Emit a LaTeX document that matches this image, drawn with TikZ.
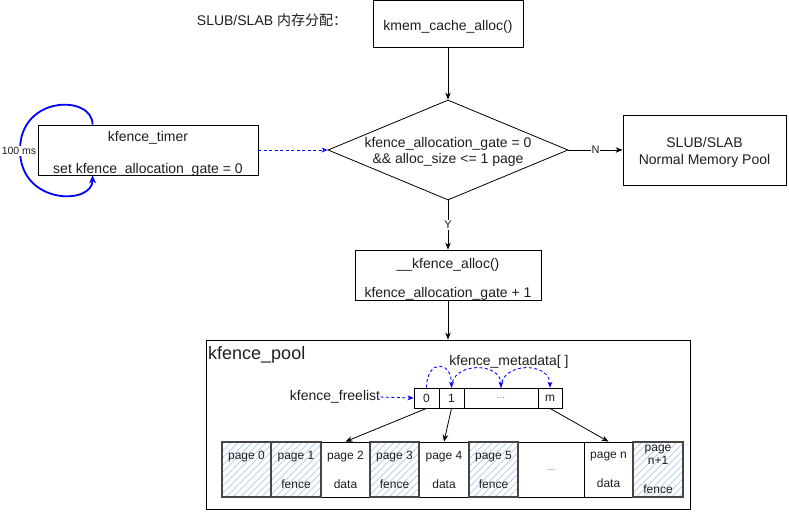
\documentclass[tikz,border=0pt]{standalone}
\usepackage{fontspec}
\setmainfont{Liberation Sans}
\newfontfamily\cjk{Noto Sans CJK SC}
\usetikzlibrary{shapes.geometric,arrows.meta,patterns.meta,calc}
\definecolor{hatchblue}{RGB}{170,203,240}
\definecolor{sketchgray}{RGB}{70,70,70}
\definecolor{txt}{RGB}{30,30,30}
\begin{document}
\begin{tikzpicture}[x=1pt,y=-1pt,
  every node/.style={text=txt},
  fnt/.style={font=\fontsize{14}{16.5}\selectfont},
  box/.style={draw,line width=0.8pt,inner sep=0pt,align=center,fnt},
  inlbl/.style={fnt,align=center,inner sep=0pt,yshift=#1},
  cell/.style={draw,line width=0.8pt,inner sep=0pt,align=center,minimum height=55pt,font=\fontsize{12}{13.5}\selectfont},
  hcell/.style={cell,draw=sketchgray,line width=1.3pt,preaction={fill=white},
    pattern={Lines[angle=45,distance=5pt,line width=0.7pt]},pattern color=hatchblue},
  mcell/.style={draw,line width=0.8pt,inner sep=0pt,align=center,minimum height=20pt,font=\fontsize{12}{14}\selectfont},
  arr/.style={draw,line width=0.8pt,-{Stealth[length=7pt,width=5.5pt]}},
  bd/.style={draw=blue,line width=0.9pt,dashed,dash pattern=on 3pt off 2.5pt,-{Stealth[length=6pt,width=5pt]}},
  lbl/.style={fill=white,inner sep=1pt,font=\fontsize{11}{12}\selectfont}
]
\useasboundingbox (0,0) rectangle (789,511);

% title
\node[fnt] (title) at (272,20) {SLUB/SLAB {\cjk 内存分配：}};

% main flow
\node[box,minimum width=150pt,minimum height=47pt,
  label={[inlbl=-3pt]center:kmem\_cache\_alloc()}] (kmem) at (448,24) {};
\node[draw,diamond,line width=0.8pt,aspect=2.4,minimum width=240pt,minimum height=100pt,inner sep=0pt,
  label={[inlbl=-2pt]center:kfence\_allocation\_gate = 0\\\&\& alloc\_size <= 1 page}] (gate) at (448,150) {};
\node[box,minimum width=163pt,minimum height=70pt,
  label={[inlbl=-2.5pt]center:SLUB/SLAB\\Normal Memory Pool}] (slub) at (704.5,150) {};
\node[box,minimum width=220pt,minimum height=50pt,
  label={[inlbl=-4pt]center:kfence\_timer\\[16pt]set kfence\_allocation\_gate = 0}] (timer) at (148,150) {};
\node[box,minimum width=186pt,minimum height=50pt,
  label={[inlbl=-4.5pt]center:\_\_kfence\_alloc()\\[13pt]kfence\_allocation\_gate + 1}] (alloc) at (448,275) {};
\node[draw,line width=0.8pt,minimum width=484pt,minimum height=169pt,inner sep=0pt] (pool) at (448,424.5) {};

\draw[arr] (kmem) -- (gate);
\draw[arr] (gate.east) -- node[lbl] {N} (slub.west);
\draw[arr] (gate.south) -- node[lbl] {Y} (alloc.north);
\draw[arr] (alloc) -- (pool);
\draw[bd] (timer.east) -- (gate.west);

% timer loop
\coordinate (lt) at ($(timer.north west)+(55,0)$);
\coordinate (lb) at ($(timer.south west)+(55,0)$);
\draw[blue,line width=1.8pt,-{Stealth[length=8pt,width=7pt]}] (lt) .. controls ($(lt)+(0,-30)$) and (20,95) .. (20,150)
   .. controls (20,205) and ($(lb)+(0,30)$) .. (lb);
\node[fill=white,inner sep=1pt,font=\fontsize{10.5}{12}\selectfont] (ms) at (19,151) {100 ms};

% pool contents
\node[anchor=west,inner sep=0pt,font=\fontsize{18}{20}\selectfont] (pooltitle) at (208,355) {kfence\_pool};
\node[fnt,inner sep=0pt] (meta) at (509,362) {kfence\_metadata[ ]};
\node[fnt,inner sep=0pt] (freelist) at (335,397) {kfence\_freelist};

\node[mcell,minimum width=25pt] (m0) at (426.5,398) {0};
\node[mcell,minimum width=25pt] (m1) at (451.5,398) {1};
\node[mcell,minimum width=74pt,font=\fontsize{10}{12}\selectfont,text=gray] (md) at (501,398) {...};
\node[mcell,minimum width=24pt] (mm) at (550,398) {m};

\draw[bd] (freelist.east) -- (m0.west);
\draw[bd] (m0.north) .. controls ($(m0.north)+(0,-28)$) and ($(m1.north)+(0,-28)$) .. (m1.north);
\draw[bd] (m1.north) .. controls ($(m1.north)+(0,-26)$) and ($(md.north)+(0,-26)$) .. (md.north);
\draw[bd] (md.north) .. controls ($(md.north)+(0,-26)$) and ($(mm.north)+(0,-26)$) .. (mm.north);

% pages
\node[cell,minimum width=49pt] (p2) at (345.5,469.5) {page 2\\[15.5pt]data};
\node[cell,minimum width=50pt] (p4) at (444,469.5) {page 4\\[15.5pt]data};
\node[cell,minimum width=66pt,font=\fontsize{10}{12}\selectfont,text=gray] (pd) at (551,469.5) {...};
\node[cell,minimum width=49pt] (pn) at (608.5,469.5) {page n\\[15.5pt]data};
\node[hcell,minimum width=49pt] (p0) at (246.5,469.5) {page 0\\[15.5pt]\phantom{fence}};
\node[hcell,minimum width=50pt] (p1) at (296,469.5) {page 1\\[15.5pt]fence};
\node[hcell,minimum width=49pt] (p3) at (394.5,469.5) {page 3\\[15.5pt]fence};
\node[hcell,minimum width=49pt] (p5) at (493.5,469.5) {page 5\\[15.5pt]fence};
\node[hcell,minimum width=50pt] (pn1) at (658,469.5) {page\\n+1\\[15.5pt]fence};

\draw[arr] (m0.south) -- (p2.north);
\draw[arr] (m1.south) -- (p4.north);
\draw[arr] (mm.south) -- (pn.north);
\end{tikzpicture}
\end{document}
